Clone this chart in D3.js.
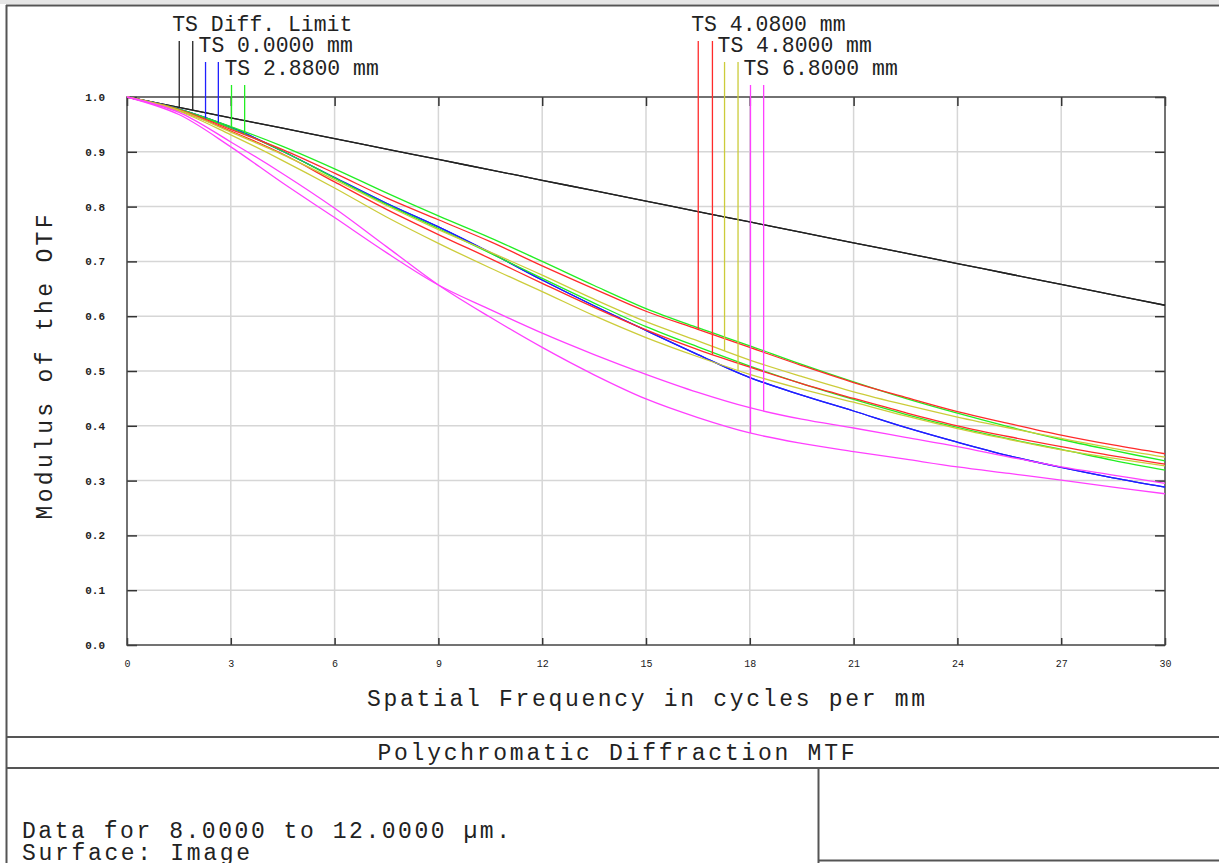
<!DOCTYPE html>
<html>
<head>
<meta charset="utf-8">
<script src="https://cdn.jsdelivr.net/npm/d3@7"></script>
<style>
  body { margin: 0; background: #fff; }
  svg text { font-family: "Liberation Mono", "Courier New", monospace; fill: #222; }
</style>
</head>
<body>
<div id="chart"></div>
<script>
  // Spatial frequency samples (cycles per mm)
  var freq = [0, 1.5, 3, 4.5, 6, 7.5, 9, 10.5, 12, 13.5, 15, 16.5, 18, 19.5, 21, 22.5, 24, 25.5, 27, 28.5, 30];

  // MTF values
  var diffLimit = [1.000, 0.981, 0.962, 0.943, 0.924, 0.905, 0.886, 0.867, 0.848, 0.829, 0.810, 0.791, 0.772, 0.753, 0.734, 0.715, 0.696, 0.677, 0.658, 0.639, 0.620];
  var field0    = [1.000, 0.978, 0.945, 0.901, 0.853, 0.806, 0.763, 0.716, 0.666, 0.619, 0.574, 0.530, 0.488, 0.456, 0.427, 0.397, 0.370, 0.345, 0.324, 0.305, 0.288];
  var t288      = [1.000, 0.978, 0.946, 0.910, 0.869, 0.825, 0.783, 0.743, 0.700, 0.656, 0.614, 0.579, 0.546, 0.512, 0.480, 0.450, 0.423, 0.398, 0.375, 0.355, 0.336];
  var s288      = [1.000, 0.977, 0.943, 0.901, 0.852, 0.804, 0.760, 0.715, 0.669, 0.624, 0.581, 0.544, 0.509, 0.477, 0.448, 0.421, 0.397, 0.376, 0.357, 0.337, 0.319];
  var t408      = [1.000, 0.977, 0.941, 0.904, 0.861, 0.816, 0.776, 0.736, 0.692, 0.650, 0.609, 0.576, 0.543, 0.510, 0.479, 0.452, 0.426, 0.404, 0.383, 0.365, 0.349];
  var s408      = [1.000, 0.975, 0.938, 0.896, 0.845, 0.795, 0.749, 0.705, 0.660, 0.616, 0.575, 0.539, 0.507, 0.477, 0.450, 0.424, 0.400, 0.380, 0.362, 0.345, 0.330];
  var t480      = [1.000, 0.976, 0.936, 0.895, 0.849, 0.802, 0.758, 0.717, 0.675, 0.631, 0.590, 0.555, 0.520, 0.490, 0.462, 0.438, 0.416, 0.396, 0.377, 0.359, 0.343];
  var s480      = [1.000, 0.974, 0.931, 0.884, 0.834, 0.781, 0.733, 0.688, 0.645, 0.601, 0.561, 0.526, 0.494, 0.467, 0.443, 0.418, 0.395, 0.375, 0.356, 0.341, 0.327];
  var t680      = [1.000, 0.972, 0.918, 0.860, 0.797, 0.727, 0.657, 0.598, 0.543, 0.493, 0.449, 0.415, 0.387, 0.368, 0.353, 0.339, 0.325, 0.313, 0.301, 0.288, 0.276];
  var s680      = [1.000, 0.968, 0.909, 0.843, 0.780, 0.716, 0.657, 0.612, 0.569, 0.530, 0.494, 0.461, 0.433, 0.412, 0.396, 0.379, 0.362, 0.343, 0.325, 0.310, 0.295];

  // Legend entries: label, colour, T/S series, frequency where each marker sits
  var legendLabels = ["TS Diff. Limit", "TS 0.0000 mm", "TS 2.8800 mm", "TS 4.0800 mm", "TS 4.8000 mm", "TS 6.8000 mm"];
  var legendColors = ["#222222", "#2020ff", "#22ee22", "#ff2a2a", "#cccc3a", "#ff40ff"];
  var legendSeries = [[diffLimit, diffLimit], [field0, field0], [t288, s288], [t408, s408], [t480, s480], [t680, s680]];
  var markerFreq = [[1.51, 1.90], [2.27, 2.64], [3.02, 3.40], [16.51, 16.92], [17.27, 17.66], [18.02, 18.40]];

  var xTicks = [0, 3, 6, 9, 12, 15, 18, 21, 24, 27, 30];
  var yTicks = [0, 0.1, 0.2, 0.3, 0.4, 0.5, 0.6, 0.7, 0.8, 0.9, 1.0];

  var width = 1219, height = 863;
  var plot = { left: 127, right: 1165, top: 97, bottom: 645 };

  var svg = d3.select("#chart").append("svg")
              .attr("width", width)
              .attr("height", height);

  // outer frame
  svg.append("rect").attr("x", 0).attr("y", 0).attr("width", width).attr("height", 4).attr("fill", "#e6e6e6");
  var frame = svg.append("g").attr("stroke", "#555").attr("stroke-width", 2).attr("fill", "none");
  frame.append("line").attr("x1", 6).attr("x2", width).attr("y1", 5.5).attr("y2", 5.5);
  frame.append("line").attr("x1", 6.5).attr("x2", 6.5).attr("y1", 5).attr("y2", height);
  frame.append("line").attr("x1", 6).attr("x2", width).attr("y1", 737).attr("y2", 737);
  frame.append("line").attr("x1", 6).attr("x2", width).attr("y1", 768).attr("y2", 768);
  frame.append("line").attr("x1", 818.5).attr("x2", 818.5).attr("y1", 768).attr("y2", height);
  frame.append("line").attr("x1", 818).attr("x2", width).attr("y1", 860.5).attr("y2", 860.5);

  var xScale = d3.scaleLinear().domain([0, 30]).range([plot.left, plot.right]);
  var yScale = d3.scaleLinear().domain([0, 1]).range([plot.bottom, plot.top]);
  var plotW = plot.right - plot.left, plotH = plot.bottom - plot.top;

  // grid lines
  var grid = svg.append("g").attr("stroke", "#d6d6d6").attr("stroke-width", 1.5);
  grid.selectAll("line.gx").data(xTicks.slice(1, -1)).enter().append("line")
      .attr("x1", function(d) { return xScale(d); }).attr("x2", function(d) { return xScale(d); })
      .attr("y1", plot.top).attr("y2", plot.bottom);
  grid.selectAll("line.gy").data(yTicks.slice(1, -1)).enter().append("line")
      .attr("y1", function(d) { return yScale(d); }).attr("y2", function(d) { return yScale(d); })
      .attr("x1", plot.left).attr("x2", plot.right);

  // inside tick marks on all four sides
  function tickAxis(axis, tx, ty) {
    var g = svg.append("g").attr("transform", "translate(" + tx + "," + ty + ")").call(axis);
    g.select(".domain").remove();
    g.selectAll("text").remove();
    g.selectAll("line").attr("stroke", "#333").attr("stroke-width", 1.5);
  }
  tickAxis(d3.axisBottom(xScale).tickValues(xTicks).tickSize(-7), 0, plot.bottom);
  tickAxis(d3.axisTop(xScale).tickValues(xTicks).tickSize(-9), 0, plot.top);
  tickAxis(d3.axisLeft(yScale).tickValues(yTicks).tickSize(-10), plot.left, 0);
  tickAxis(d3.axisRight(yScale).tickValues(yTicks).tickSize(-10), plot.right, 0);

  svg.append("rect").attr("x", plot.left).attr("y", plot.top).attr("width", plotW).attr("height", plotH)
     .attr("fill", "none").attr("stroke", "#444").attr("stroke-width", 1.5);

  // tick labels
  var xLab = svg.append("g").attr("transform", "translate(0," + plot.bottom + ")")
                .call(d3.axisBottom(xScale).tickValues(xTicks).tickSize(0).tickPadding(15).tickFormat(d3.format("d")));
  xLab.select(".domain").remove();
  xLab.selectAll("text").attr("font-size", 10).attr("font-family", "Liberation Mono").attr("fill", "#333");

  var yLab = svg.append("g").attr("transform", "translate(" + plot.left + ",0)")
                .call(d3.axisLeft(yScale).tickValues(yTicks).tickSize(0).tickPadding(22).tickFormat(d3.format(".1f")));
  yLab.select(".domain").remove();
  yLab.selectAll("text").attr("font-size", 11).attr("font-weight", "bold").attr("font-family", "Liberation Mono").attr("fill", "#333");

  // axis titles
  svg.append("text").attr("x", 646).attr("y", 706).attr("text-anchor", "middle")
     .attr("font-size", 23).attr("textLength", 558).attr("lengthAdjust", "spacing")
     .text("Spatial Frequency in cycles per mm");
  svg.append("text").attr("transform", "translate(52,367) rotate(-90)").attr("text-anchor", "middle")
     .attr("font-size", 23).attr("textLength", 305).attr("lengthAdjust", "spacing")
     .text("Modulus of the OTF");

  // curves
  var line = d3.line()
               .x(function(d) { return xScale(d[0]); })
               .y(function(d) { return yScale(d[1]); })
               .curve(d3.curveCatmullRom.alpha(0.5));

  function valueAt(series, f) {
    var i = d3.bisectRight(freq, f) - 1;
    i = Math.max(0, Math.min(i, freq.length - 2));
    var t = (f - freq[i]) / (freq[i + 1] - freq[i]);
    return series[i] + t * (series[i + 1] - series[i]);
  }

  legendSeries.forEach(function(pair, k) {
    pair.forEach(function(series) {
      svg.append("path")
         .datum(freq.map(function(f, i) { return [f, series[i]]; }))
         .attr("fill", "none")
         .attr("stroke", legendColors[k])
         .attr("stroke-width", 1.3)
         .attr("d", line);
    });
  });

  // legend: label plus vertical marker lines down to each curve
  var rowTop = [41, 62, 85];
  legendLabels.forEach(function(label, k) {
    var row = k % 3;
    var x0 = xScale(markerFreq[k][0]);
    svg.append("text")
       .attr("x", x0 - 7)
       .attr("y", rowTop[row] - 10)
       .attr("font-size", 22)
       .attr("textLength", label.length * 12.86)
       .attr("lengthAdjust", "spacingAndGlyphs")
       .text(label);
    markerFreq[k].forEach(function(f, j) {
      svg.append("line")
         .attr("x1", xScale(f)).attr("x2", xScale(f))
         .attr("y1", rowTop[row])
         .attr("y2", yScale(valueAt(legendSeries[k][j], f)))
         .attr("stroke", legendColors[k])
         .attr("stroke-width", 1.3);
    });
  });

  // bottom panel
  svg.append("text").attr("x", 616).attr("y", 760).attr("text-anchor", "middle")
     .attr("font-size", 23).attr("textLength", 477).attr("lengthAdjust", "spacing")
     .text("Polychromatic Diffraction MTF");
  svg.append("text").attr("x", 22).attr("y", 838)
     .attr("font-size", 23).attr("textLength", 488).attr("lengthAdjust", "spacing")
     .text("Data for 8.0000 to 12.0000 µm.");
  svg.append("text").attr("x", 22).attr("y", 860)
     .attr("font-size", 23).attr("textLength", 228).attr("lengthAdjust", "spacing")
     .text("Surface: Image");
</script>
</body>
</html>
